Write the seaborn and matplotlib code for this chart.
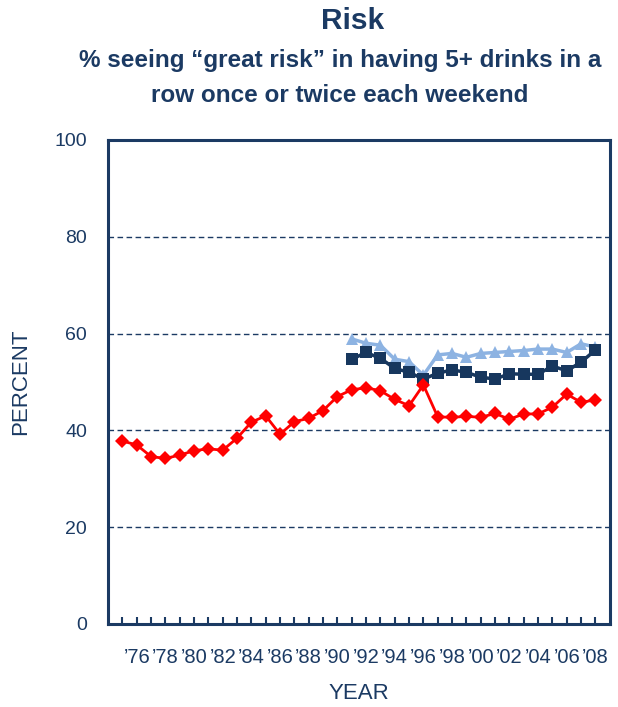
import matplotlib
matplotlib.use('Agg')  # Use non-GUI backend

import matplotlib.pyplot as plt
import seaborn as sns
import pandas as pd

# Data
years_12 = list(range(1975, 2009))
grade_12 = [37.8, 37.0, 34.6, 34.2, 34.9, 35.8, 36.2, 35.9, 38.4, 41.7,
            43.0, 39.2, 41.8, 42.5, 44.1, 47.0, 48.4, 48.8, 48.2, 46.4,
            45.1, 49.4, 42.8, 42.7, 42.9, 42.7, 43.5, 42.3, 43.4, 43.4,
            44.8, 47.5, 45.8, 46.3]

years_10 = list(range(1991, 2009))
grade_10 = [54.7, 56.1, 54.9, 52.8, 52.0, 50.6, 51.8, 52.5, 52.0, 51.0,
            50.6, 51.7, 51.6, 51.6, 53.3, 52.3, 54.1, 56.6]

years_8 = list(range(1991, 2009))
grade_8 = [58.9, 58.0, 57.6, 54.7, 54.2, 51.4, 55.6, 55.9, 55.1, 55.9,
           56.1, 56.3, 56.5, 56.8, 56.8, 56.1, 57.9, 57.2]

tick_years = list(range(1976, 2009, 2))

navy = "#1B3A63"

sns.set_style("white")
plt.rcParams['font.family'] = ['Liberation Sans', 'DejaVu Sans']

fig = plt.figure(figsize=(6.18, 7.07), dpi=100)
ax = fig.add_axes([0.1748, 0.1174, 0.8118, 0.6846])

# Draw series (8th first so 12th sits on top)
df8 = pd.DataFrame({"year": years_8, "pct": grade_8})
df10 = pd.DataFrame({"year": years_10, "pct": grade_10})
df12 = pd.DataFrame({"year": years_12, "pct": grade_12})

sns.lineplot(data=df8, x="year", y="pct", ax=ax, color="#8DB3E2", marker="^",
             markersize=9, markeredgewidth=0, linewidth=2.5, zorder=3)
sns.lineplot(data=df10, x="year", y="pct", ax=ax, color="#17375E", marker="s",
             markersize=8, markeredgewidth=0, linewidth=2.5, zorder=4)
sns.lineplot(data=df12, x="year", y="pct", ax=ax, color="#FF0000", marker="D",
             markersize=7.5, markeredgewidth=0, linewidth=2, zorder=5)

ax.set_xlim(1974, 2009)
ax.set_ylim(0, 100)

# Axis ticks
ax.set_yticks([0, 20, 40, 60, 80, 100])
ax.set_xticks(years_12)
ax.set_xticklabels(["\u2019" + str(y)[2:] if y in tick_years else "" for y in years_12])
ax.tick_params(axis='x', direction='in', length=5, width=1.5, color=navy,
               pad=17, labelsize=14.5, labelcolor=navy, bottom=True)
ax.tick_params(axis='y', length=0, pad=15, labelsize=14, labelcolor=navy)

# Gridlines
for v in [20, 40, 60, 80]:
    ax.axhline(v, color=navy, linestyle=(0, (4, 2.5)), linewidth=1, zorder=1)

for side in ax.spines.values():
    side.set_color(navy)
    side.set_linewidth(2.2)
    side.set_visible(True)

ax.set_xlabel("YEAR", fontsize=16, color=navy, labelpad=12)
ax.set_ylabel("PERCENT", fontsize=16, color=navy, labelpad=17)

fig.text(0.571, 0.970, "Risk", ha='center', va='center', fontsize=21.5,
         fontweight='bold', color=navy)
fig.text(0.550, 0.914, "% seeing \u201cgreat risk\u201d in having 5+ drinks in a",
         ha='center', va='center', fontsize=17.5, fontweight='bold', color=navy)
fig.text(0.550, 0.865, "row once or twice each weekend",
         ha='center', va='center', fontsize=17.5, fontweight='bold', color=navy)

plt.savefig("out.png", dpi=100)
plt.close()
